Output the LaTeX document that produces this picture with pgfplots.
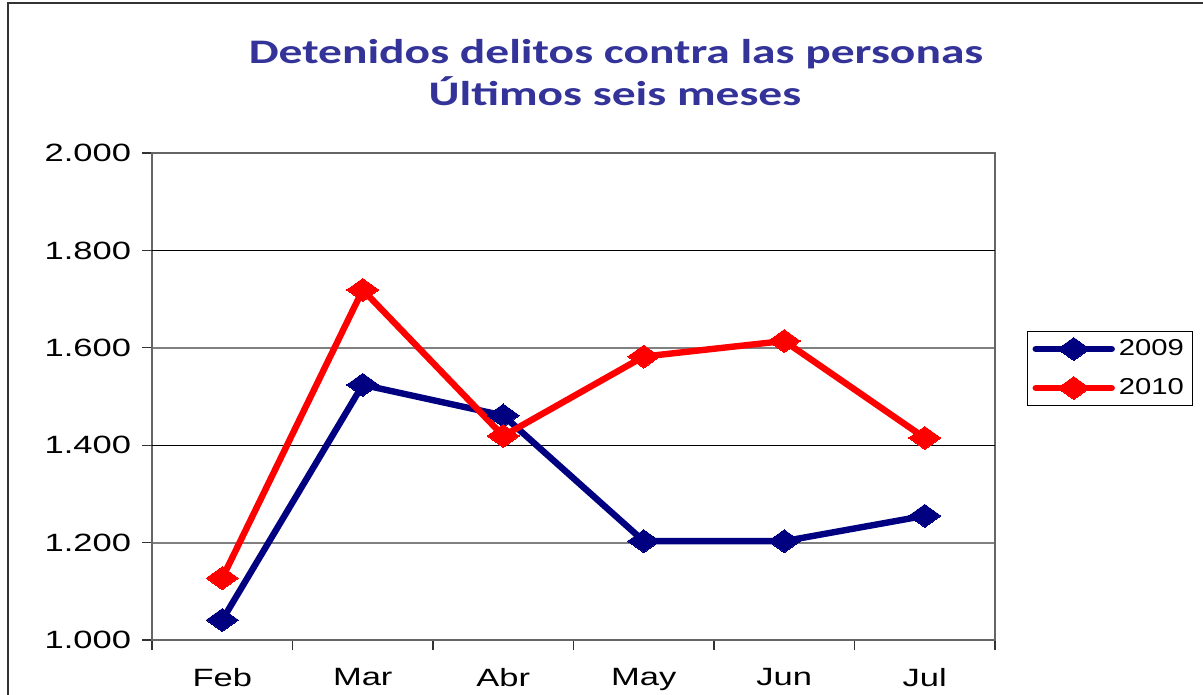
\documentclass[border=0pt]{standalone}
\usepackage{pgfplots}
\pgfplotsset{compat=1.18}
\usepackage{fontspec}
\setmainfont{Liberation Sans}[FakeStretch=1.38]
\newfontfamily\titlefont{Carlito}[FakeStretch=1.38]
\newfontfamily\legfont{Liberation Sans}[FakeStretch=1.27]
\definecolor{titleblue}{RGB}{51,51,153}
\definecolor{navy09}{RGB}{0,0,128}
\definecolor{red10}{RGB}{255,0,0}
\definecolor{gridgray}{RGB}{128,128,128}
\begin{document}
\begin{tikzpicture}
\path[use as bounding box] (0,0) rectangle (601.5bp,347.5bp);
\draw[line width=1bp, black!80] (4bp,-1bp) -- (4bp,346bp) -- (602bp,346bp);
\node[anchor=base, font=\titlefont\bfseries\fontsize{17.2bp}{20bp}\selectfont, text=titleblue, inner sep=0pt] at (308bp,315.6bp) {Detenidos delitos contra las personas};
\node[anchor=base, font=\titlefont\bfseries\fontsize{17.2bp}{20bp}\selectfont, text=titleblue, inner sep=0pt] at (307.5bp,294.6bp) {Últimos seis meses};
\begin{axis}[
  at={(76bp,27.5bp)}, anchor=south west,
  scale only axis, width=421.5bp, height=243.5bp,
  xmin=-0.5, xmax=5.5, ymin=1000, ymax=2000,
  xtick pos=bottom, ytick pos=left,
  xtick={-0.5,0.5,...,5.5}, xticklabels={},
  extra x ticks={0,1,2,3,4,5},
  extra x tick labels={Feb,Mar,Abr,May,Jun,Jul},
  extra x tick style={major tick length=0pt, xticklabel style={yshift=-10.5bp}},
  ytick={1000,1200,1600,2000},
  yticklabels={1.000,1.200,1.600,2.000},
  extra y ticks={1400,1800},
  extra y tick labels={1.400,1.800},
  extra y tick style={grid style={black, line width=0.6bp}},
  ymajorgrids,
  grid style={gridgray, line width=1bp},
  tick align=outside,
  major tick length=5bp,
  tick style={black!80, line width=0.6bp},
  axis line style={black!60, line width=0.8bp},
  ticklabel style={font=\fontsize{12.5bp}{15bp}\selectfont},
  yticklabel style={xshift=-2bp},
  legend style={
    at={(1.038,0.6345)}, anchor=north west,
    draw=black, line width=0.5bp,
    font=\legfont\fontsize{11.5bp}{13bp}\selectfont,
    inner xsep=2.5bp, inner ysep=2bp, row sep=6bp,
    legend cell align=left,
  },
  legend image code/.code={
    \draw[mark repeat=2,mark phase=2,#1] plot coordinates {(0bp,0bp) (19bp,0bp) (38bp,0bp)};
  },
  every axis plot/.append style={line width=3.2bp, line join=round, line cap=round},
]
\addplot[color=navy09, mark=diamond*, mark size=5.75bp, mark options={solid, line width=0pt, xscale=1.86}]
  coordinates {(0,1041) (1,1524) (2,1461) (3,1203) (4,1203) (5,1255)};
\addlegendentry{2009}
\addplot[color=red10, mark=diamond*, mark size=5.75bp, mark options={solid, line width=0pt, xscale=1.86}]
  coordinates {(0,1127) (1,1719) (2,1419) (3,1582) (4,1614) (5,1415)};
\addlegendentry{2010}
\end{axis}
\end{tikzpicture}
\end{document}
